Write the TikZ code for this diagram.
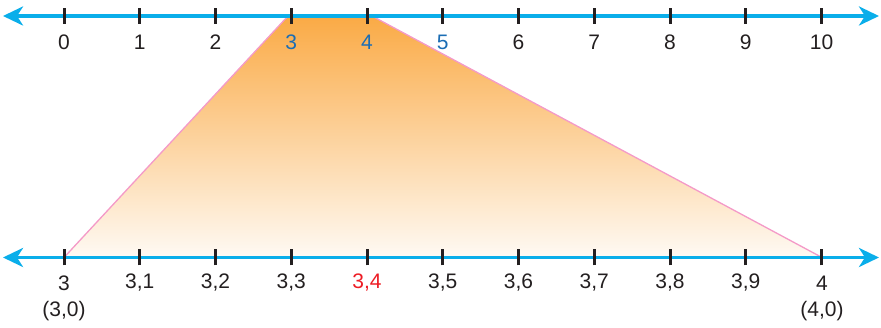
\documentclass[tikz,border=0pt]{standalone}
\usepackage{fontspec}
\setmainfont{Liberation Sans}
\usetikzlibrary{arrows.meta}
\definecolor{axiscol}{HTML}{0AAEEA}
\definecolor{tickcol}{HTML}{231F20}
\definecolor{bluelab}{HTML}{1B6DB4}
\definecolor{redlab}{HTML}{ED1C24}
\definecolor{orangetop}{HTML}{FAAA45}
\definecolor{pinkedge}{HTML}{F49AC8}
\tikzset{
  axisline/.style={draw=axiscol, line width=3.6pt, {Stealth[length=20pt,width=19pt,inset=6pt]}-{Stealth[length=20pt,width=19pt,inset=6pt]}},
  tickmark/.style={draw=tickcol, line width=3pt},
  lab/.style={font=\fontsize{21}{23}\selectfont, text=tickcol, inner sep=0pt, anchor=center},
  edgeline/.style={draw=pinkedge, line width=1.3pt}
}
\begin{document}
\begin{tikzpicture}[x=1pt,y=1pt]
\useasboundingbox (0,0) rectangle (881,328);
% trapezoid
\coordinate (A) at (288,312);
\coordinate (B) at (372,312);
\coordinate (C) at (822,70.5);
\coordinate (D) at (64,70.5);
\shade[top color=orangetop, bottom color=orangetop!6!white] (A) -- (B) -- (C) -- (D) -- cycle;
\draw[edgeline] (D) -- (A);
\draw[edgeline] (B) -- (C);
% axes
\coordinate (TL) at (3,312);
\coordinate (TR) at (879,312);
\coordinate (BL) at (3,70.5);
\coordinate (BR) at (879,70.5);
\draw[axisline] (TL) -- (TR);
\draw[axisline] (BL) -- (BR);
% ticks
\foreach \i in {0,...,10}{
  \pgfmathsetmacro{\xx}{64+75.75*\i}
  \draw[tickmark] (\xx,304) -- (\xx,320);
  \draw[tickmark] (\xx,62.5) -- (\xx,78.5);
}
% top labels
\foreach \i in {0,1,2,6,7,8,9,10}{
  \pgfmathsetmacro{\xx}{64+75.75*\i}
  \node[lab] (t\i) at (\xx,286) {\i};
}
\foreach \i in {3,4,5}{
  \pgfmathsetmacro{\xx}{64+75.75*\i}
  \node[lab, text=bluelab] (t\i) at (\xx,286) {\i};
}
% bottom labels
\node[lab] (b0) at (64,45) {3};
\foreach \i in {1,2,3,5,6,7,8,9}{
  \pgfmathsetmacro{\xx}{64+75.75*\i}
  \node[lab] (b\i) at (\xx,45) {3,\i};
}
\node[lab, text=redlab] (b4) at (64+75.75*4,45) {3,4};
\node[lab] (b10) at (822,45) {4};
\node[lab] (p0) at (64,17) {(3,0)};
\node[lab] (p10) at (822,17) {(4,0)};
\end{tikzpicture}
\end{document}
